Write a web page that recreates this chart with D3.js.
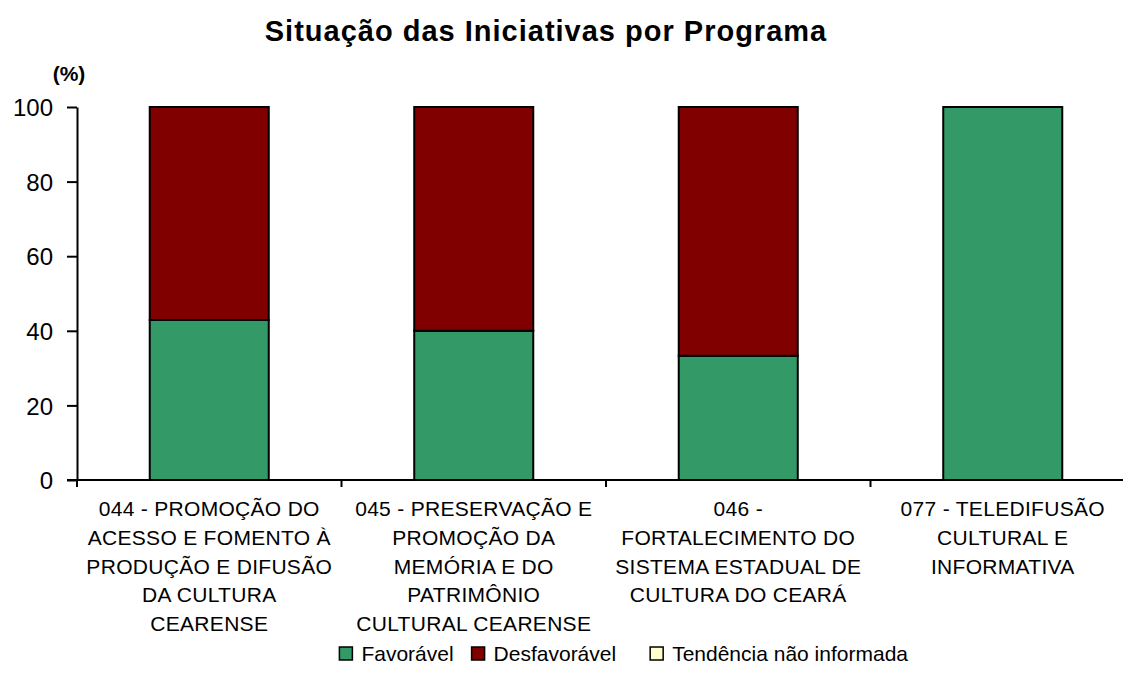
<!DOCTYPE html>
<html>
<head>
<meta charset="utf-8">
<script src="https://cdn.jsdelivr.net/npm/d3@7"></script>
<style>
  body { margin: 0; background: #fff; }
  svg { font-family: "Liberation Sans", Arial, sans-serif; }
</style>
</head>
<body>
<div id="chart"></div>
<script>
var width = 1123,
  height = 690;

// data
var programas = ["044", "045", "046", "077"];
var rotulos = [
  ["044 - PROMOÇÃO DO", "ACESSO E FOMENTO À", "PRODUÇÃO E DIFUSÃO", "DA CULTURA", "CEARENSE"],
  ["045 - PRESERVAÇÃO E", "PROMOÇÃO DA", "MEMÓRIA E DO", "PATRIMÔNIO", "CULTURAL CEARENSE"],
  ["046 -", "FORTALECIMENTO DO", "SISTEMA ESTADUAL DE", "CULTURA DO CEARÁ"],
  ["077 - TELEDIFUSÃO", "CULTURAL E", "INFORMATIVA"]
];
var favoravel = [42.9, 40, 33.3, 100];
var desfavoravel = [57.1, 60, 66.7, 0];
var naoInformada = [0, 0, 0, 0];
var yTicks = [0, 20, 40, 60, 80, 100];

var series = ["Favorável", "Desfavorável", "Tendência não informada"];
var cores = ["#339966", "#800000", "#FFFFCC"];

var margin = {left: 77, top: 107, bottom: 480};
var bandW = 264.5;

var svg = d3.select("#chart").append("svg")
  .attr("width", width)
  .attr("height", height);

var x = d3.scaleBand()
  .domain(programas)
  .range([margin.left, margin.left + bandW * programas.length])
  .paddingInner(0.55)
  .paddingOuter(0.275);

var y = d3.scaleLinear()
  .domain([0, 100])
  .range([margin.bottom, margin.top]);

var tabela = programas.map(function(p, i) {
  return {programa: p, "Favorável": favoravel[i], "Desfavorável": desfavoravel[i], "Tendência não informada": naoInformada[i]};
});
var stack = d3.stack().keys(series)(tabela);

// title
svg.append("text")
  .attr("x", 546)
  .attr("y", 41)
  .attr("text-anchor", "middle")
  .style("font-weight", "bold")
  .style("font-size", "29px")
  .style("letter-spacing", "1px")
  .text("Situação das Iniciativas por Programa");

svg.append("text")
  .attr("x", 69)
  .attr("y", 81)
  .attr("text-anchor", "middle")
  .style("font-weight", "bold")
  .style("font-size", "21px")
  .text("(%)");

// bars
svg.selectAll("g.serie")
  .data(stack)
  .enter().append("g")
  .attr("class", "serie")
  .attr("fill", function(d, i) { return cores[i]; })
  .selectAll("rect")
  .data(function(d) { return d.filter(function(s) { return s[1] - s[0] > 0; }); })
  .enter().append("rect")
  .attr("x", function(d) { return x(d.data.programa); })
  .attr("width", x.bandwidth())
  .attr("y", function(d) { return y(d[1]); })
  .attr("height", function(d) { return y(d[0]) - y(d[1]); })
  .attr("stroke", "#000")
  .attr("stroke-width", 2);

// y axis
var yAxis = svg.append("g")
  .attr("transform", "translate(" + margin.left + ",0)")
  .call(d3.axisLeft(y).tickValues(yTicks).tickSize(10).tickPadding(14).tickSizeOuter(0));
yAxis.select(".domain").attr("stroke-width", 2);
yAxis.selectAll(".tick line").attr("stroke-width", 2);
yAxis.selectAll(".tick text")
  .attr("dy", "0.36em")
  .style("font-size", "24px")
  .style("font-family", "Liberation Sans, Arial, sans-serif")
  .attr("fill", "#000");

// x axis line + category boundary ticks
var xAxis = svg.append("g");
xAxis.append("line")
  .attr("x1", margin.left - 10).attr("x2", width)
  .attr("y1", y(0)).attr("y2", y(0))
  .attr("stroke", "#000").attr("stroke-width", 2);
xAxis.selectAll("line.div")
  .data(d3.range(programas.length))
  .enter().append("line")
  .attr("class", "div")
  .attr("x1", function(i) { return x(programas[i]) - x.step() * x.paddingOuter(); })
  .attr("x2", function(i) { return x(programas[i]) - x.step() * x.paddingOuter(); })
  .attr("y1", y(0)).attr("y2", y(0) + 7)
  .attr("stroke", "#000").attr("stroke-width", 2);

var lbl = xAxis.selectAll("text.cat")
  .data(programas)
  .enter().append("text")
  .attr("class", "cat")
  .attr("text-anchor", "middle")
  .style("font-size", "21px")
  .style("letter-spacing", "0.3px");
lbl.selectAll("tspan")
  .data(function(d, i) { return rotulos[i].map(function(t) { return {t: t, p: d}; }); })
  .enter().append("tspan")
  .attr("x", function(d) { return x(d.p) + x.bandwidth() / 2; })
  .attr("y", function(d, j) { return 516 + j * 28.8; })
  .text(function(d) { return d.t; });

// legend, laid out item after item, right end at 908
var legenda = svg.append("g");
var leg = legenda.selectAll("g.leg")
  .data(series)
  .enter().append("g")
  .attr("class", "leg");
leg.append("rect")
  .attr("width", 13).attr("height", 13)
  .attr("fill", function(d, i) { return cores[i]; })
  .attr("stroke", "#000").attr("stroke-width", 1.5);
leg.append("text")
  .attr("x", 22).attr("y", 14)
  .style("font-size", "21px")
  .text(function(d) { return d; });

var gaps = [18, 34, 0];
var pos = 0;
leg.each(function(d, i) {
  var w = 22 + d3.select(this).select("text").node().getComputedTextLength();
  d3.select(this).attr("transform", "translate(" + pos + ",0)");
  pos += w + gaps[i];
});
legenda.attr("transform", "translate(" + (908 - pos) + ",647)");
</script>
</body>
</html>
